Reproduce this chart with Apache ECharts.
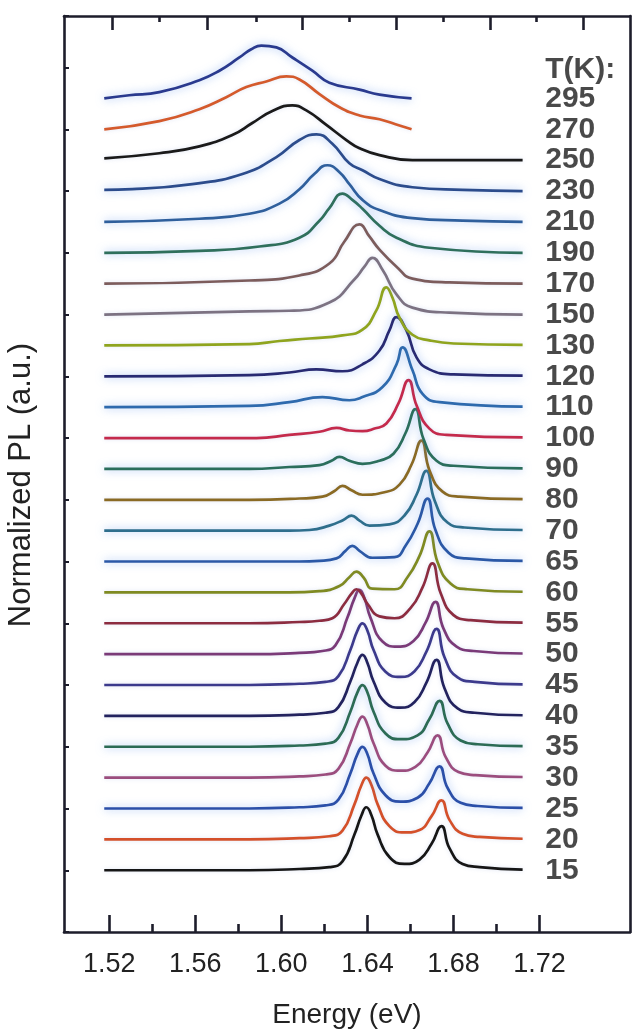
<!DOCTYPE html>
<html>
<head>
<meta charset="utf-8">
<script src="https://cdn.jsdelivr.net/npm/echarts@6/dist/echarts.min.js"></script>
<style>
  html, body { margin: 0; padding: 0; background: #fff; overflow: hidden; }
  #chart { width: 637px; height: 1029px; }
</style>
</head>
<body>
<div id="chart"></div>
<script>
// Temperatures (K), bottom trace first
const temps = [15, 20, 25, 30, 35, 40, 45, 50, 55, 60, 65, 70, 80, 90, 100, 110, 120, 130, 150, 170, 190, 210, 230, 250, 270, 295];

// Normalized PL spectra: [energy (eV), PL]
const T15 = [[1.5177,0],[1.5851,0],[1.6084,.02],[1.6223,.05],[1.6284,.14],[1.6340,.57],[1.6372,.87],[1.6395,1.0],[1.6419,.87],[1.6447,.57],[1.6502,.21],[1.6572,.10],[1.6642,.17],[1.6698,.42],[1.6744,.70],[1.6781,.35],[1.6842,.10],[1.6921,.05],[1.7121,.01]];
const T20 = [[1.5177,0],[1.5851,0],[1.6084,.02],[1.6223,.05],[1.6284,.14],[1.6340,.56],[1.6372,.86],[1.6395,.98],[1.6419,.86],[1.6447,.56],[1.6502,.21],[1.6572,.11],[1.6642,.15],[1.6698,.37],[1.6744,.62],[1.6781,.31],[1.6842,.09],[1.6921,.04],[1.7121,.01]];
const T25 = [[1.5177,0],[1.5851,0],[1.6084,.02],[1.6205,.05],[1.6265,.14],[1.6321,.56],[1.6353,.86],[1.6377,.98],[1.6400,.86],[1.6428,.56],[1.6484,.21],[1.6553,.11],[1.6633,.17],[1.6688,.40],[1.6735,.67],[1.6772,.33],[1.6833,.09],[1.6912,.04],[1.7121,.01]];
const T30 = [[1.5177,0],[1.5851,0],[1.6084,.02],[1.6205,.05],[1.6265,.14],[1.6321,.55],[1.6353,.84],[1.6377,.97],[1.6400,.84],[1.6428,.55],[1.6484,.19],[1.6553,.11],[1.6623,.17],[1.6679,.40],[1.6726,.67],[1.6763,.33],[1.6823,.09],[1.6902,.04],[1.7121,.01]];
const T35 = [[1.5177,0],[1.5851,0],[1.6084,.02],[1.6205,.05],[1.6265,.14],[1.6321,.56],[1.6353,.86],[1.6377,.98],[1.6400,.86],[1.6428,.56],[1.6484,.21],[1.6553,.12],[1.6633,.18],[1.6688,.44],[1.6735,.73],[1.6772,.37],[1.6833,.10],[1.6912,.04],[1.7121,.01]];
const T40 = [[1.5177,0],[1.5851,0],[1.6084,.02],[1.6205,.05],[1.6265,.14],[1.6321,.55],[1.6353,.84],[1.6377,.97],[1.6400,.84],[1.6428,.55],[1.6484,.21],[1.6553,.13],[1.6619,.22],[1.6674,.53],[1.6721,.89],[1.6758,.44],[1.6819,.12],[1.6898,.05],[1.7121,.01]];
const T45 = [[1.5177,0],[1.5851,0],[1.6084,.02],[1.6205,.05],[1.6265,.14],[1.6321,.56],[1.6353,.86],[1.6377,.98],[1.6400,.86],[1.6428,.56],[1.6484,.21],[1.6553,.13],[1.6619,.22],[1.6674,.53],[1.6721,.89],[1.6758,.44],[1.6819,.12],[1.6898,.05],[1.7121,.01]];
const T50 = [[1.5177,0],[1.5851,0],[1.6084,.02],[1.6191,.05],[1.6251,.14],[1.6307,.58],[1.6340,.89],[1.6363,1.02],[1.6386,.89],[1.6414,.58],[1.6470,.20],[1.6540,.12],[1.6614,.21],[1.6670,.50],[1.6716,.83],[1.6753,.41],[1.6814,.12],[1.6893,.05],[1.7121,.01]];
const T55 = [[1.5177,0],[1.5851,0],[1.6084,.02],[1.6177,.04],[1.6237,.08],[1.6293,.31],[1.6326,.47],[1.6349,.54],[1.6372,.47],[1.6400,.31],[1.6456,.11],[1.6526,.08],[1.6600,.24],[1.6656,.57],[1.6702,.95],[1.6740,.48],[1.6800,.13],[1.6879,.05],[1.7121,.01]];
const T60 = [[1.5177,0],[1.6037,0],[1.6177,.02],[1.6270,.10],[1.6316,.24],[1.6349,.33],[1.6381,.24],[1.6423,.06],[1.6526,.05],[1.6586,.24],[1.6642,.58],[1.6688,.97],[1.6726,.48],[1.6786,.14],[1.6865,.05],[1.7121,.01]];
const T65 = [[1.5177,0],[1.6084,0],[1.6177,.01],[1.6256,.05],[1.6298,.17],[1.6330,.25],[1.6363,.17],[1.6423,.06],[1.6526,.07],[1.6577,.25],[1.6633,.60],[1.6679,1.0],[1.6716,.50],[1.6777,.14],[1.6856,.05],[1.7121,.01]];
const T70 = [[1.5177,0],[1.6037,0],[1.6130,.01],[1.6223,.08],[1.6288,.17],[1.6326,.24],[1.6363,.16],[1.6409,.08],[1.6502,.10],[1.6572,.24],[1.6628,.57],[1.6674,.95],[1.6712,.48],[1.6772,.13],[1.6851,.05],[1.7121,.01]];
const T80 = [[1.5177,0],[1.5851,0],[1.6084,.02],[1.6191,.05],[1.6247,.14],[1.6284,.22],[1.6326,.15],[1.6377,.08],[1.6479,.12],[1.6549,.24],[1.6605,.56],[1.6651,.94],[1.6688,.47],[1.6749,.13],[1.6828,.05],[1.7121,.01]];
const T90 = [[1.5177,0],[1.5851,0],[1.6037,.03],[1.6177,.06],[1.6233,.13],[1.6270,.19],[1.6316,.13],[1.6377,.08],[1.6456,.13],[1.6521,.24],[1.6577,.57],[1.6623,.95],[1.6660,.48],[1.6721,.13],[1.6800,.05],[1.7121,.01]];
const T100 = [[1.5177,0],[1.5884,0],[1.6037,.05],[1.6177,.10],[1.6256,.16],[1.6316,.12],[1.6377,.11],[1.6433,.15],[1.6488,.23],[1.6544,.55],[1.6591,.92],[1.6628,.52],[1.6688,.15],[1.6767,.05],[1.7121,.01]];
const T110 = [[1.5177,0],[1.5851,.02],[1.6037,.08],[1.6191,.16],[1.6316,.11],[1.6377,.16],[1.6470,.32],[1.6535,.68],[1.6563,.95],[1.6609,.59],[1.6656,.21],[1.6735,.08],[1.7121,.01]];
const T120 = [[1.5177,0],[1.5851,.02],[1.6037,.06],[1.6163,.11],[1.6284,.08],[1.6377,.19],[1.6456,.41],[1.6502,.73],[1.6535,.94],[1.6581,.73],[1.6628,.30],[1.6688,.11],[1.6800,.03],[1.7121,.01]];
const T130 = [[1.5177,0],[1.5851,.02],[1.5991,.07],[1.6130,.11],[1.6284,.16],[1.6377,.25],[1.6442,.56],[1.6488,.92],[1.6516,.76],[1.6549,.44],[1.6609,.17],[1.6688,.08],[1.6800,.03],[1.7121,.01]];
const T150 = [[1.5177,0],[1.5851,.05],[1.6037,.06],[1.6223,.19],[1.6340,.56],[1.6386,.76],[1.6423,.90],[1.6470,.71],[1.6535,.32],[1.6609,.11],[1.6781,.03],[1.7121,0]];
const T170 = [[1.5177,0],[1.5851,.05],[1.6084,.13],[1.6223,.32],[1.6293,.67],[1.6363,.94],[1.6409,.75],[1.6456,.54],[1.6535,.27],[1.6609,.08],[1.6781,.02],[1.7121,0]];
const T190 = [[1.5177,0],[1.5619,.03],[1.5898,.10],[1.6084,.24],[1.6177,.51],[1.6223,.71],[1.6284,.94],[1.6330,.84],[1.6377,.70],[1.6456,.43],[1.6535,.24],[1.6688,.08],[1.7121,0]];
const T210 = [[1.5177,0],[1.5619,.05],[1.5851,.13],[1.5991,.29],[1.6084,.52],[1.6153,.76],[1.6214,.90],[1.6270,.79],[1.6316,.60],[1.6377,.35],[1.6456,.19],[1.6609,.06],[1.6842,.02],[1.7121,0]];
const T230 = [[1.5177,.02],[1.5307,.03],[1.5586,.11],[1.5819,.27],[1.5977,.54],[1.6084,.81],[1.6163,.90],[1.6237,.75],[1.6316,.44],[1.6377,.33],[1.6456,.19],[1.6609,.06],[1.6842,.02],[1.7121,0]];
const T250 = [[1.5177,.03],[1.5433,.11],[1.5619,.22],[1.5772,.40],[1.5865,.59],[1.5958,.78],[1.6051,.87],[1.6116,.79],[1.6209,.56],[1.6302,.32],[1.6363,.19],[1.6456,.08],[1.6609,0],[1.6842,0],[1.7121,0]];
const T270 = [[1.5177,0],[1.5433,.13],[1.5619,.32],[1.5744,.51],[1.5837,.67],[1.5930,.76],[1.6023,.84],[1.6084,.79],[1.6177,.56],[1.6270,.35],[1.6363,.22],[1.6456,.16],[1.6549,.06],[1.6605,0]];
const T295 = [[1.5177,0],[1.5293,.05],[1.5433,.10],[1.5619,.29],[1.5712,.44],[1.5805,.65],[1.5860,.78],[1.5907,.84],[1.5977,.81],[1.6051,.65],[1.6144,.44],[1.6223,.25],[1.6363,.14],[1.6456,.06],[1.6605,0]];

const spectra = [T15, T20, T25, T30, T35, T40, T45, T50, T55, T60, T65, T70, T80, T90, T100, T110, T120, T130, T150, T170, T190, T210, T230, T250, T270, T295];

// Axis ticks and labels
const bottomMajorTicks = [1.52, 1.56, 1.60, 1.64, 1.68, 1.72];
const bottomMinorTicks = [1.54, 1.58, 1.62, 1.66, 1.70];
const topMajorTicks = [1.5212, 1.5657, 1.6097, 1.6536, 1.6971, 1.7402];
const topMinorTicks = [1.5434, 1.5884, 1.6314, 1.6754, 1.7184];
const legendTitle = 'T(K):';

// Layout / style
const xMin = 1.499, xMax = 1.762;
const yMin = -2, yMax = 27.67;
const peakScale = 2.04;      // trace height per unit normalized PL, in offset units
const labelX = 1.7226;
const titleOffset = 25.92;
const frameColor = '#1d1d2b';

const colors = ['#161616', '#d4502a', '#2b4fa8', '#9b4d7e', '#2c6b55', '#22225e', '#3c3a8c', '#7a3a78',
  '#8c2c40', '#7f8a22', '#2b58a6', '#2e6e8c', '#8a6a24', '#2b6e5c', '#c42a4c', '#2e6aad', '#282a72',
  '#8fa41e', '#7c7282', '#7c5c5c', '#2f6f5c', '#2f5f9c', '#2c4c8c', '#1a1a1a', '#d45a2c', '#2a3a8e'];
const hazy = new Set([25, 35, 65, 70, 90, 110, 120, 190, 210, 230, 295]);

const font = 'Liberation Sans, Arial, Helvetica, sans-serif';

const traceSeries = spectra.map((spec, i) => ({
  type: 'line',
  name: String(temps[i]),
  xAxisIndex: 0,
  yAxisIndex: 0,
  data: spec.map(([e, pl]) => [e, i + pl * peakScale]),
  showSymbol: false,
  smooth: 0.5,
  silent: true,
  z: 3,
  lineStyle: {
    color: colors[i],
    width: 2.7,
    shadowColor: hazy.has(temps[i]) ? 'rgba(90,145,235,0.6)' : 'rgba(150,170,220,0.3)',
    shadowBlur: hazy.has(temps[i]) ? 8 : 4
  }
}));

const labelSeries = {
  type: 'scatter',
  xAxisIndex: 0,
  yAxisIndex: 0,
  symbolSize: 0,
  silent: true,
  z: 4,
  data: temps.map((t, i) => ({ value: [labelX, i], name: String(t) }))
    .concat([{ value: [labelX, titleOffset], name: legendTitle }]),
  label: {
    show: true,
    position: 'right',
    distance: 0,
    formatter: p => p.name,
    fontFamily: font,
    fontWeight: 'bold',
    fontSize: 30,
    color: '#1c1c1c'
  }
};

const axisLineStyle = { color: frameColor, width: 2.6 };

const chart = echarts.init(document.getElementById('chart'), null, { renderer: 'canvas' });
chart.setOption({
  animation: false,
  backgroundColor: '#ffffff',
  grid: { left: 64, right: 7, top: 16, bottom: 97, containLabel: false, outerBoundsMode: 'none' },
  xAxis: [
    {
      type: 'value', position: 'bottom', min: xMin, max: xMax,
      name: 'Energy (eV)', nameLocation: 'middle', nameGap: 69,
      nameTextStyle: { fontFamily: font, fontSize: 28, color: '#222' },
      axisLine: { show: true, onZero: false, lineStyle: axisLineStyle },
      axisTick: { show: true, inside: true, length: 17, customValues: bottomMajorTicks, lineStyle: axisLineStyle },
      axisLabel: { show: true, customValues: bottomMajorTicks, formatter: v => v.toFixed(2), margin: 19, fontFamily: font, fontSize: 27, color: '#222' },
      splitLine: { show: false }
    },
    {
      type: 'value', position: 'bottom', min: xMin, max: xMax,
      axisLine: { show: false, onZero: false },
      axisTick: { show: true, inside: true, length: 8, customValues: bottomMinorTicks, lineStyle: axisLineStyle },
      axisLabel: { show: false },
      splitLine: { show: false }
    },
    {
      type: 'value', position: 'top', min: xMin, max: xMax,
      axisLine: { show: true, onZero: false, lineStyle: axisLineStyle },
      axisTick: { show: true, inside: true, length: 14, customValues: topMajorTicks, lineStyle: axisLineStyle },
      axisLabel: { show: false },
      splitLine: { show: false }
    },
    {
      type: 'value', position: 'top', min: xMin, max: xMax,
      axisLine: { show: false, onZero: false },
      axisTick: { show: true, inside: true, length: 6, customValues: topMinorTicks, lineStyle: axisLineStyle },
      axisLabel: { show: false },
      splitLine: { show: false }
    }
  ],
  yAxis: [
    {
      type: 'value', position: 'left', min: yMin, max: yMax, interval: 2,
      name: 'Normalized PL (a.u.)', nameLocation: 'middle', nameGap: 27, nameRotate: 90,
      nameTextStyle: { fontFamily: font, fontSize: 31, color: '#222', padding: [0, 22, 0, 0] },
      axisLine: { show: true, onZero: false, lineStyle: axisLineStyle },
      axisTick: { show: true, inside: true, length: 5, lineStyle: { color: frameColor, width: 2 } },
      axisLabel: { show: false },
      splitLine: { show: false }
    },
    {
      type: 'value', position: 'right', min: yMin, max: yMax,
      axisLine: { show: true, onZero: false, lineStyle: axisLineStyle },
      axisTick: { show: false },
      axisLabel: { show: false },
      splitLine: { show: false }
    }
  ],
  series: traceSeries.concat([labelSeries])
});
</script>
</body>
</html>
